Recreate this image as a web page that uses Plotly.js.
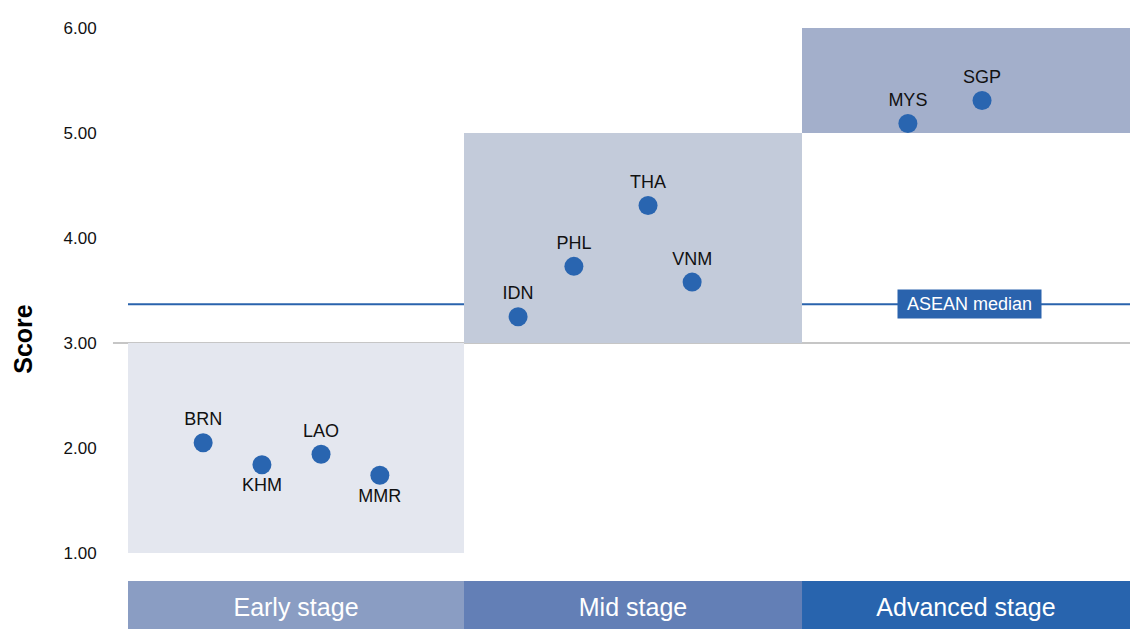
<!DOCTYPE html>
<html>
<head>
<meta charset="utf-8">
<script src="https://cdn.plot.ly/plotly-3.0.1.min.js"></script>
<style>html,body{margin:0;padding:0;background:#fff;}#chart{width:1130px;height:629px;}</style>
</head>
<body>
<div id="chart"></div>
<script>
// ---- data ----
const countries = ["BRN","KHM","LAO","MMR","IDN","PHL","THA","VNM","MYS","SGP"];
const xPos      = [0.225,0.401,0.578,0.754,1.168,1.335,1.557,1.689,2.335,2.557];
const scores    = [2.05,1.84,1.94,1.74,3.25,3.73,4.31,3.58,5.09,5.31];
const labelSide = ["top","bottom","top","bottom","top","top","top","top","top","top"];
const stageNames = ["Early stage","Mid stage","Advanced stage"];
const stageEdges = [0, 1.006, 2.018, 3];
const stageLow   = [1, 3, 5];
const stageHigh  = [3, 5, 6];
const aseanMedian = 3.37;
const yTicks = [1,2,3,4,5,6];

const FONT = "'Liberation Sans Narrow','Arial Narrow','Liberation Sans',Arial,sans-serif";
const boxColors   = ["#e4e7ef","#c3cbda","#a3afcb"];
const stageColors = ["#8a9dc3","#637fb6","#2864ae"];
const BLUE = "#2965b0";

const shapes = [];
for (let i = 0; i < stageNames.length; i++) {
  shapes.push({type:"rect", layer:"below", xref:"x", yref:"y",
    x0:stageEdges[i], x1:stageEdges[i+1], y0:stageLow[i], y1:stageHigh[i],
    fillcolor:boxColors[i], line:{width:0}});
}
// gridline at 3.00
shapes.push({type:"line", layer:"below", xref:"paper", yref:"y",
  x0:-0.015, x1:1, y0:3, y1:3, line:{color:"#c6c6c6", width:2}});
// median line
shapes.push({type:"line", layer:"below", xref:"paper", yref:"y",
  x0:0, x1:1, y0:aseanMedian, y1:aseanMedian, line:{color:"#2a63ad", width:2}});
// stage bars
for (let i = 0; i < stageNames.length; i++) {
  shapes.push({type:"rect", xref:"x", yref:"paper",
    x0:stageEdges[i], x1:stageEdges[i+1], y0:-0.1448, y1:-0.0533,
    fillcolor:stageColors[i], line:{width:0},
    label:{text:stageNames[i], textposition:"middle center",
      font:{family:FONT, size:25, color:"#ffffff"}}});
}

const trace = {
  type:"scatter", mode:"markers+text",
  x:xPos, y:scores, text:countries,
  textposition:labelSide.map(s => s + " center"),
  textfont:{family:FONT, size:18, color:"#111111"},
  marker:{size:19, color:BLUE},
  cliponaxis:false, hoverinfo:"skip", showlegend:false
};

const layout = {
  width:1130, height:629,
  margin:{l:128, r:0, t:28, b:76, pad:0},
  paper_bgcolor:"#ffffff", plot_bgcolor:"rgba(0,0,0,0)",
  showlegend:false,
  xaxis:{range:[0,3], visible:false, fixedrange:true},
  yaxis:{range:[1,6], tickvals:yTicks, ticktext:yTicks.map(v=>v.toFixed(2)),
    showgrid:false, zeroline:false, showline:false,
    ticks:"outside", ticklen:27, tickcolor:"rgba(0,0,0,0)",
    tickfont:{family:FONT, size:17, color:"#111111"}, fixedrange:true},
  shapes:shapes,
  annotations:[
    {xref:"x", yref:"y", x:2.52, y:aseanMedian, text:"ASEAN median",
     showarrow:false, bgcolor:"#2a63ad", width:143, height:28, borderpad:0,
     font:{family:FONT, size:18, color:"#ffffff"}, xanchor:"center", yanchor:"middle"},
    {xref:"paper", yref:"paper", x:-0.1048, y:0.408, text:"<b>Score</b>",
     textangle:-90, showarrow:false, xanchor:"center", yanchor:"middle",
     font:{family:FONT, size:25, color:"#000000"}}
  ]
};

Plotly.newPlot("chart", [trace], layout, {displayModeBar:false, staticPlot:true});
</script>
</body>
</html>
